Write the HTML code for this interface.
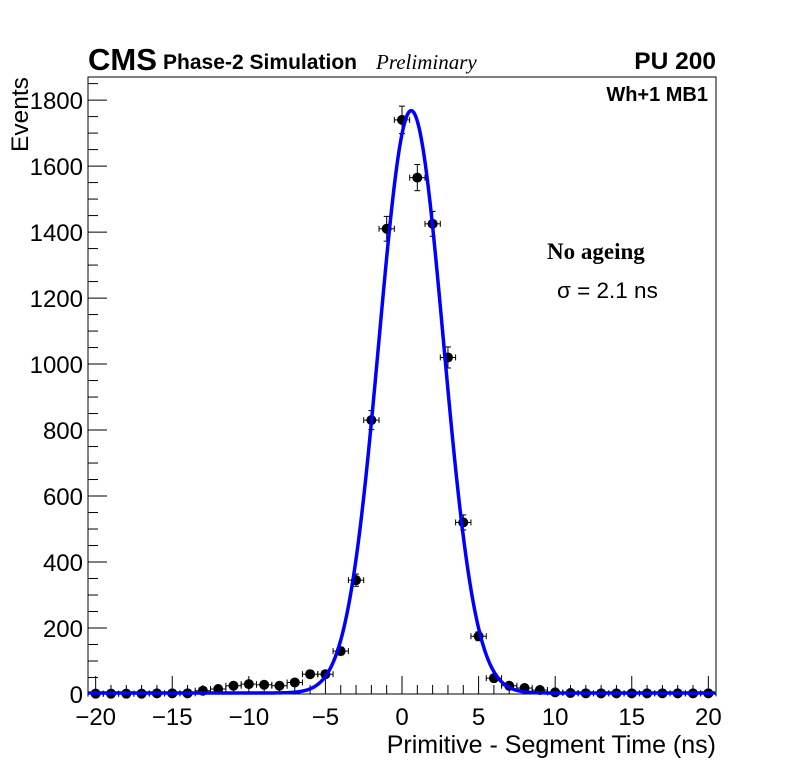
<!DOCTYPE html>
<html><head><meta charset="utf-8"><style>
body{margin:0;background:#fff}
svg{display:block;font-family:"Liberation Sans",sans-serif}
</style></head><body>
<svg id="c" width="796" height="772">
<rect x="88" y="77" width="628" height="617" fill="none" stroke="#000" stroke-width="1"/>
<g id="ticks"></g>
<g id="pts"></g>
<path id="fit" fill="none" stroke="#0000ff" stroke-width="3.5"/>
<text x="88" y="70" font-size="31" font-weight="bold">CMS</text>
<text x="163" y="69" font-size="21" font-weight="bold" textLength="194">Phase-2 Simulation</text>
<text x="376" y="69" font-size="21" font-style="italic" font-family="Liberation Serif,serif">Preliminary</text>
<text x="716" y="69" font-size="24.5" font-weight="bold" text-anchor="end">PU 200</text>
<text x="708" y="101" font-size="20" font-weight="bold" text-anchor="end">Wh+1 MB1</text>
<text x="547" y="259" font-size="23" font-weight="bold" font-family="Liberation Serif,serif">No ageing</text>
<text x="557" y="298" font-size="22.5">σ = 2.1 ns</text>
<text x="716" y="753" font-size="25" text-anchor="end">Primitive - Segment Time (ns)</text>
<text transform="translate(28,152) rotate(-90)" font-size="24.5">Events</text>
</svg>
<script>
const xs=[-20,-19,-18,-17,-16,-15,-14,-13,-12,-11,-10,-9,-8,-7,-6,-5,-4,-3,-2,-1,0,1,2,3,4,5,6,7,8,9,10,11,12,13,14,15,16,17,18,19,20];
const ys=[1,1,1,1,2,2,2,10,15,25,30,28,25,35,60,60,130,345,830,1410,1740,1565,1425,1020,520,175,48,25,18,12,5,3,2,2,2,2,2,2,2,2,2];
const fitAmp=1765, fitMean=0.6, fitSigma=2.1, fitConst=3;
const xTicks=[-20,-15,-10,-5,0,5,10,15,20];
const yTicks=[0,200,400,600,800,1000,1200,1400,1600,1800];
const X0=88,X1=716,Y0=694,Y1=77,xmin=-20.5,xmax=20.5,ymin=0,ymax=1870;
const sx=v=>X0+(v-xmin)/(xmax-xmin)*(X1-X0);
const sy=v=>Y0-(v-ymin)/(ymax-ymin)*(Y0-Y1);
const NS='http://www.w3.org/2000/svg';
function mk(t,a,p){const e=document.createElementNS(NS,t);for(const k in a)e.setAttribute(k,a[k]);p.appendChild(e);return e;}
const tk=document.getElementById('ticks');
for(let v=-20;v<=20;v++){const major=v%5===0;const x=sx(v);
const l=mk('line',{x1:x,x2:x,y1:Y0,y2:Y0-(major?18:9),stroke:'#000'},tk);

}
xTicks.forEach(v=>{const t=mk('text',{x:sx(v),y:725,'font-size':24,'text-anchor':'middle'},tk);t.textContent=(v<0?'\u2212'+(-v):v);

});
for(let v=0;v<=1850;v+=50){const major=v%200===0;const y=sy(v);
const l=mk('line',{x1:X0,x2:X0+(major?19:10),y1:y,y2:y,stroke:'#000'},tk);

}
yTicks.forEach(v=>{const t=mk('text',{x:83,y:sy(v)+9,'font-size':24,'text-anchor':'end'},tk);t.textContent=v;

});
const pg=document.getElementById('pts');
xs.forEach((x,i)=>{const cx=sx(x),cy=sy(ys[i]),e=Math.sqrt(ys[i]);
const g=mk('g',{},pg);


mk('line',{x1:sx(x-0.5),x2:sx(x+0.5),y1:cy,y2:cy,stroke:'#000'},g);
mk('line',{x1:sx(x-0.5),x2:sx(x-0.5),y1:cy-3,y2:cy+3,stroke:'#000'},g);
mk('line',{x1:sx(x+0.5),x2:sx(x+0.5),y1:cy-3,y2:cy+3,stroke:'#000'},g);
if(e>2){mk('line',{x1:cx,x2:cx,y1:sy(ys[i]+e),y2:Math.min(Y0,sy(ys[i]-e)),stroke:'#000'},g);
mk('line',{x1:cx-3,x2:cx+3,y1:sy(ys[i]+e),y2:sy(ys[i]+e),stroke:'#000'},g);
mk('line',{x1:cx-3,x2:cx+3,y1:Math.min(Y0,sy(ys[i]-e)),y2:Math.min(Y0,sy(ys[i]-e)),stroke:'#000'},g);}
mk('circle',{cx:cx,cy:cy,r:5,fill:'#000'},g);});
let d='';for(let x=-20.5;x<=20.5;x+=0.05){const y=fitConst+fitAmp*Math.exp(-0.5*((x-fitMean)/fitSigma)**2);d+=(d?'L':'M')+sx(x).toFixed(2)+','+sy(y).toFixed(2);}
document.getElementById('fit').setAttribute('d',d);
</script>
</body></html>
